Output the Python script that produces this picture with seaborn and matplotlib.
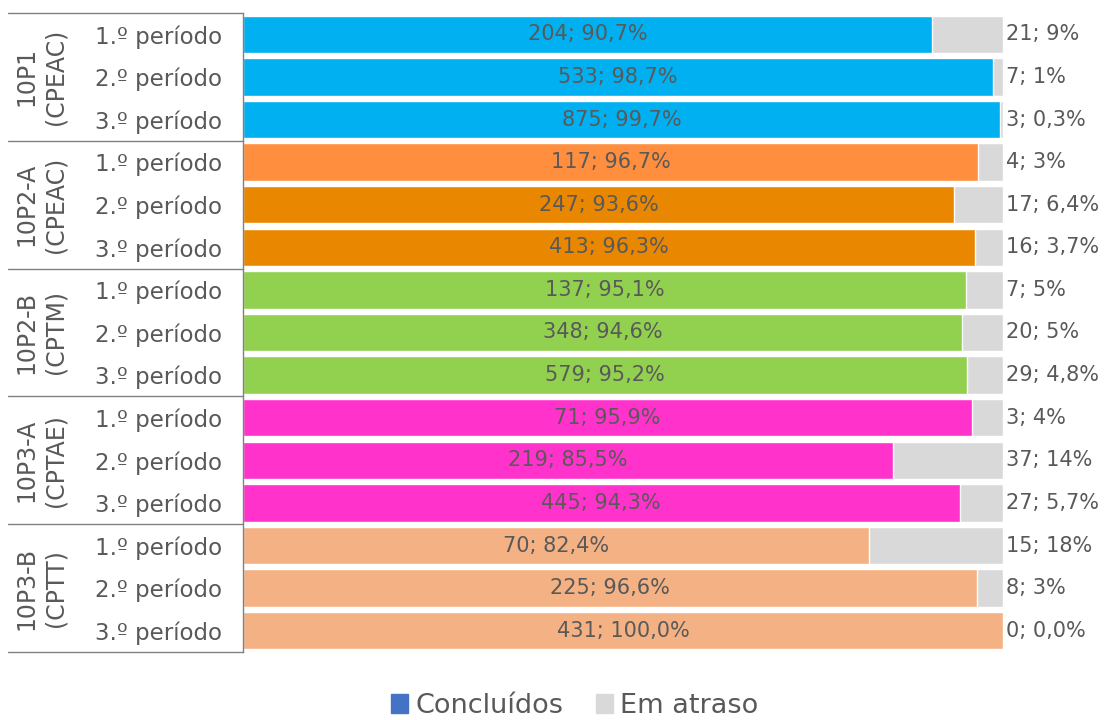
import matplotlib
matplotlib.use("Agg")
import matplotlib.pyplot as plt
import matplotlib.patches as mpatches
import matplotlib.transforms as mtrans
import seaborn as sns
import pandas as pd

groups = ["10P1\n(CPEAC)", "10P2-A\n(CPEAC)", "10P2-B\n(CPTM)", "10P3-A\n(CPTAE)", "10P3-B\n(CPTT)"]
periods = ["1.º período", "2.º período", "3.º período"]
done_counts = [204, 533, 875, 117, 247, 413, 137, 348, 579, 71, 219, 445, 70, 225, 431]
done_pct = ["90,7%", "98,7%", "99,7%", "96,7%", "93,6%", "96,3%", "95,1%", "94,6%", "95,2%",
            "95,9%", "85,5%", "94,3%", "82,4%", "96,6%", "100,0%"]
late_counts = [21, 7, 3, 4, 17, 16, 7, 20, 29, 3, 37, 27, 15, 8, 0]
late_pct = ["9%", "1%", "0,3%", "3%", "6,4%", "3,7%", "5%", "5%", "4,8%",
            "4%", "14%", "5,7%", "18%", "3%", "0,0%"]
row_colors = ["#00B0F0", "#00B0F0", "#00B0F0",
              "#FF8F3F", "#E98800", "#E98800",
              "#92D050", "#92D050", "#92D050",
              "#FF33CC", "#FF33CC", "#FF33CC",
              "#F4B183", "#F4B183", "#F4B183"]
gray = "#D9D9D9"
legend_blue = "#4472C4"
txt = "#595959"

sns.set_theme(style="white")
plt.rcParams["font.family"] = ["DejaVu Sans"]

rows = [f"r{i}" for i in range(len(done_counts))]
df = pd.DataFrame({
    "row": rows,
    "done": [d / (d + l) for d, l in zip(done_counts, late_counts)],
    "total": [1.0] * len(rows),
})

fig = plt.figure(figsize=(11.07, 7.2), dpi=100)
ax = fig.add_axes([243 / 1107, 1 - 652 / 720, 760 / 1107, (652 - 13) / 720])

sns.barplot(data=df, y="row", x="total", color=gray, orient="h", width=0.88,
            ax=ax, saturation=1)
sns.barplot(data=df, y="row", x="done", hue="row", palette=row_colors, orient="h",
            width=0.88, ax=ax, legend=False, saturation=1)

ax.set_xlim(0, 1)
ax.set_ylim(len(rows) - 0.5, -0.5)
ax.set_xlabel("")
ax.set_ylabel("")
ax.set_xticks([])
ax.set_yticks(range(len(rows)))
ax.set_yticklabels([periods[i % 3] for i in range(len(rows))], fontsize=16.5, color=txt)
ax.tick_params(axis="y", length=0, pad=15)
for s in ["top", "right", "bottom"]:
    ax.spines[s].set_visible(False)
ax.spines["left"].set_color("#808080")
ax.spines["left"].set_linewidth(1)

for i in range(len(rows)):
    frac = df["done"][i]
    ax.text(frac / 2, i, f"{done_counts[i]}; {done_pct[i]}", ha="center", va="center",
            fontsize=15, color=txt)
    ax.text(1.004, i, f"{late_counts[i]}; {late_pct[i]}", ha="left", va="center",
            fontsize=15, color=txt, clip_on=False)

trans = mtrans.blended_transform_factory(ax.transAxes, ax.transData)
for b in [-0.5, 2.5, 5.5, 8.5, 11.5, 14.5]:
    ax.plot([-0.309, 0], [b, b], transform=trans, color="#808080", lw=1, clip_on=False)
for g, name in enumerate(groups):
    ax.text(-0.266, g * 3 + 1, name, transform=trans, rotation=90, ha="center",
            va="center", fontsize=17, color=txt, linespacing=1.3, multialignment="center")

handles = [mpatches.Patch(color=legend_blue, label="Concluídos"),
           mpatches.Patch(color=gray, label="Em atraso")]
fig.legend(handles=handles, loc="center", bbox_to_anchor=(0.519, 1 - 706 / 720), ncol=2,
           frameon=False, fontsize=19.5, labelcolor=txt, handlelength=0.65, handleheight=0.65,
           handletextpad=0.25, columnspacing=1.2)

fig.savefig("out.png", dpi=100)
